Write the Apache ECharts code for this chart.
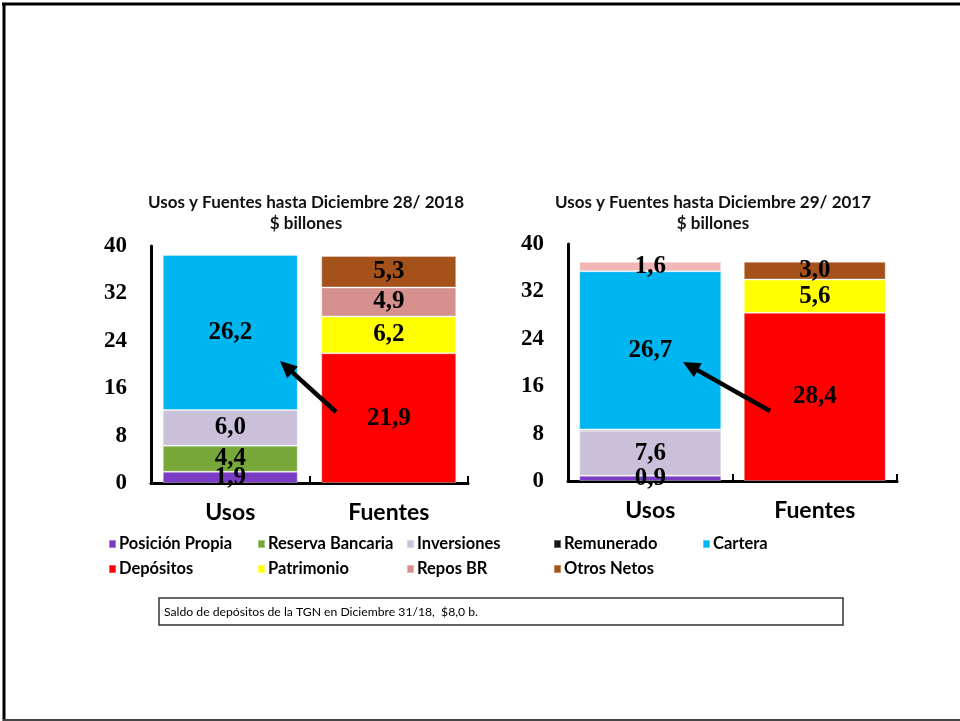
<!DOCTYPE html>
<html><head><meta charset="utf-8">
<script src="https://cdn.jsdelivr.net/npm/echarts@6/dist/echarts.min.js"></script>
<style>html,body{margin:0;padding:0;background:#fff}#c{width:960px;height:721px}</style>
</head><body><div id="c"></div><script>
// ---------- DATA ----------
const categories = ['Usos', 'Fuentes'];
const seriesNames = ['Posición Propia', 'Reserva Bancaria', 'Inversiones', 'Remunerado', 'Cartera', 'Depósitos', 'Patrimonio', 'Repos BR', 'Otros Netos'];
const yTicks = [0, 8, 16, 24, 32, 40];
const title2018 = 'Usos y Fuentes hasta Diciembre 28/ 2018';
const title2017 = 'Usos y Fuentes hasta Diciembre 29/ 2017';
const unitLabel = '$ billones';
const noteText = 'Saldo de depósitos de la TGN en Diciembre 31/18,  $8,0 b.';

// 2018 values: [Usos, Fuentes]
const posicionPropia2018 = [1.9, null];
const reservaBancaria2018 = [4.4, null];
const inversiones2018 = [6.0, null];
const remunerado2018 = [null, null];
const cartera2018 = [26.2, null];
const depositos2018 = [null, 21.9];
const patrimonio2018 = [null, 6.2];
const reposBR2018 = [null, 4.9];
const otrosNetos2018 = [null, 5.3];

// 2017 values: [Usos, Fuentes]
const posicionPropia2017 = [0.9, null];
const reservaBancaria2017 = [null, null];
const inversiones2017 = [7.6, null];
const remunerado2017 = [0.2, null];
const cartera2017 = [26.7, null];
const depositos2017 = [null, 28.4];
const patrimonio2017 = [null, 5.6];
const reposBR2017 = [1.6, null];
const otrosNetos2017 = [null, 3.0];

const values2018 = [posicionPropia2018, reservaBancaria2018, inversiones2018, remunerado2018, cartera2018, depositos2018, patrimonio2018, reposBR2018, otrosNetos2018];
const values2017 = [posicionPropia2017, reservaBancaria2017, inversiones2017, remunerado2017, cartera2017, depositos2017, patrimonio2017, reposBR2017, otrosNetos2017];

// ---------- STYLE ----------
const colors = ['#7B3CC4', '#78A83A', '#CBC0DA', '#141414', '#00B6F0', '#FF0000', '#FFFF00', '#D6918F', '#A5521A'];
const colors2017 = colors.slice(); colors2017[7] = '#F2B6B6';
const hiddenLabel = ['Remunerado'];
const SERIF = "'Liberation Serif', 'DejaVu Serif', serif";
const SANS = "Lato, 'Noto Sans', sans-serif";

const chart = echarts.init(document.getElementById('c'));

const grids = [
  { left: 151, top: 246, width: 317, height: 237 },
  { left: 568, top: 244, width: 329, height: 237 }
];
const barWidths = [135, 142];

function fmt(v) { return v.toFixed(1).replace('.', ','); }

function makeSeries(vals, g, cols) {
  return seriesNames.map((name, i) => ({
    name: name, type: 'bar', stack: 'st' + g, xAxisIndex: g, yAxisIndex: g,
    barWidth: barWidths[g],
    data: vals[i],
    itemStyle: { color: cols[i], borderColor: 'rgba(255,255,255,0.35)', borderWidth: 1 },
    label: {
      show: hiddenLabel.indexOf(name) < 0, position: 'inside',
      formatter: p => fmt(p.value),
      fontFamily: SERIF, fontWeight: 'bold', fontSize: 25, color: '#000'
    },
    emphasis: { disabled: true }
  }));
}

const xAxes = grids.map((g, i) => ({
  type: 'category', gridIndex: i, data: categories,
  axisLine: { lineStyle: { color: '#000', width: 3 } },
  axisTick: { show: true, inside: true, length: 7, lineStyle: { color: '#000', width: 2 } },
  axisLabel: { fontFamily: SANS, fontWeight: 'bold', fontSize: 23, color: '#000', margin: 18 }
}));
const yAxes = grids.map((g, i) => ({
  type: 'value', gridIndex: i,
  min: yTicks[0], max: yTicks[yTicks.length - 1], interval: yTicks[1] - yTicks[0],
  axisLine: { show: true, lineStyle: { color: '#000', width: 3 } },
  axisTick: { show: false },
  splitLine: { show: false },
  axisLabel: { fontFamily: SERIF, fontWeight: 'bold', fontSize: 23, color: '#000', margin: 24 }
}));

// legends laid out as a 5-column, 2-row grid
const legendCols = [108, 257, 406, 553, 702];
const legendRows = [544, 569];
const legends = seriesNames.map((name, i) => ({
  data: [name], orient: 'horizontal', padding: 0,
  left: legendCols[i % 5], top: legendRows[Math.floor(i / 5)] - 9,
  icon: 'rect', itemWidth: 7, itemHeight: 8, selectedMode: false,
  textStyle: { fontFamily: SANS, fontWeight: 'bold', fontSize: 16.5, lineHeight: 18, color: '#000', padding: [0, 0, 0, -2] }
}));

function arrow(x1, y1, x2, y2) {
  const dx = x2 - x1, dy = y2 - y1, L = Math.hypot(dx, dy), ux = dx / L, uy = dy / L;
  const hl = 17, hw = 8;
  const bx = x2 - ux * hl, by = y2 - uy * hl;
  return [
    { type: 'line', z: 100, shape: { x1: x1, y1: y1, x2: bx + ux * 2, y2: by + uy * 2 }, style: { stroke: '#000', lineWidth: 4.5 } },
    { type: 'polygon', z: 100, shape: { points: [[x2, y2], [bx - uy * hw, by + ux * hw], [bx + uy * hw, by - ux * hw]] }, style: { fill: '#000' } }
  ];
}

function titleText(x, text) {
  return [
    { type: 'text', z: 100, x: x, y: 203, style: { text: text, fontFamily: SANS, fontWeight: 'bold', fontSize: 17, fill: '#111', align: 'center', verticalAlign: 'middle' } },
    { type: 'text', z: 100, x: x, y: 224, style: { text: unitLabel, fontFamily: SANS, fontWeight: 'bold', fontSize: 17, fill: '#111', align: 'center', verticalAlign: 'middle' } }
  ];
}

const graphics = [].concat(
  [
    { type: 'line', z: 100, shape: { x1: 2, y1: 4, x2: 960, y2: 4 }, style: { stroke: '#000', lineWidth: 3 } },
    { type: 'line', z: 100, shape: { x1: 4, y1: 3, x2: 4, y2: 721 }, style: { stroke: '#000', lineWidth: 3 } },
    { type: 'line', z: 100, shape: { x1: 3, y1: 720, x2: 960, y2: 720 }, style: { stroke: '#444', lineWidth: 2 } },
    { type: 'rect', z: 100, shape: { x: 159, y: 598, width: 684, height: 27 }, style: { fill: '#fff', stroke: '#333', lineWidth: 1.5 } },
    { type: 'text', z: 101, x: 164, y: 612, style: { text: noteText, fontFamily: SANS, fontSize: 12.2, fill: '#000', verticalAlign: 'middle' } }
  ],
  titleText(306, title2018),
  titleText(713, title2017),
  arrow(336, 412, 280, 361),
  arrow(770, 411, 683, 362)
);

chart.setOption({
  animation: false,
  backgroundColor: '#fff',
  grid: grids,
  xAxis: xAxes,
  yAxis: yAxes,
  legend: legends,
  series: makeSeries(values2018, 0, colors).concat(makeSeries(values2017, 1, colors2017)),
  graphic: graphics
});
</script></body></html>
